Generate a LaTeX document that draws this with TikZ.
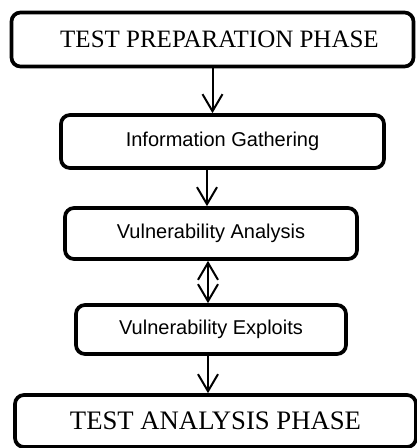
\documentclass[tikz,border=0pt]{standalone}
\usepackage{fontspec}
\setmainfont{Liberation Serif}
\newfontfamily\arialfont{Liberation Sans}
\usetikzlibrary{arrows.meta}
\begin{document}
\begin{tikzpicture}[x=1pt,y=-1pt,
  box/.style={draw=black,line width=3.7pt,rounded corners=9pt,fill=white,inner sep=0pt,
    minimum width=#1, anchor=center},
  phasebox/.style={box=#1,minimum height=54pt},
  stepbox/.style={box=#1,font=\arialfont\fontsize{20pt}{22pt}\selectfont},
  flow/.style={line width=2pt,-{Straight Barb[length=17pt,width=20pt,line width=2pt]}},
  flowboth/.style={line width=2pt,{Straight Barb[length=17pt,width=20pt,line width=2pt]}-{Straight Barb[length=17pt,width=20pt,line width=2pt]}}
]
\useasboundingbox (0,0) rectangle (417,448);
\node[phasebox=402pt,font=\fontsize{25pt}{27pt}\selectfont] (b1) at (212.5,39.5) {\raisebox{-2pt}{\hspace{14pt}TEST PREPARATION PHASE}};
\node[stepbox=323pt,minimum height=53pt] (b2) at (222.5,141.5) {Information Gathering};
\node[stepbox=292pt,minimum height=51pt] (b3) at (211,233.5) {Vulnerability Analysis};
\node[stepbox=270pt,minimum height=49pt] (b4) at (211,329.5) {Vulnerability Exploits};
\node[phasebox=401pt,minimum height=52pt,font=\fontsize{26.7pt}{28pt}\selectfont] (b5) at (215.5,421) {\raisebox{-3pt}{TEST ANALYSIS PHASE}};
\draw[flow] (b1.south) -- (b1.south |- b2.north);
\draw[flow] ([xshift=-4pt]b3.north |- b2.south) -- ([xshift=-4pt]b3.north);
\draw[flowboth] ([xshift=-3pt]b3.south) -- ([xshift=-3pt]b4.north);
\draw[flow] ([xshift=-3pt]b4.south) -- ([xshift=-3pt]b4.south |- b5.north);
\end{tikzpicture}
\end{document}
